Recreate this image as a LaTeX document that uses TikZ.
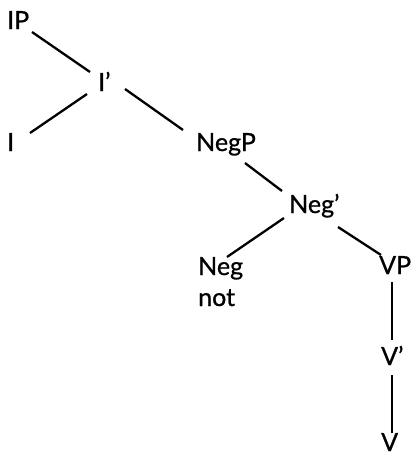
\documentclass[tikz,border=0pt]{standalone}
\usepackage{fontspec}
\setmainfont{Lato}[FakeBold=0.8]
\begin{document}
\begin{tikzpicture}[x=1pt,y=-1pt,
  lbl/.style={anchor=base west,inner sep=0pt,font=\fontsize{25}{25}\selectfont},
  branch/.style={line width=2.3pt}]
\useasboundingbox (0,0) rectangle (411,455);
% labels of the tree
\node[lbl] (IP)   at (7,29)    {IP};
\node[lbl] (Ibar) at (98,91)   {I’};
\node[lbl] (I)    at (7,151)   {I};
\node[lbl] (NegP) at (196,151) {NegP};
\node[lbl] (Negb) at (289,213) {Neg’};
\node[lbl] (Neg)  at (198,275) {Neg};
\node[lbl] (not)  at (198,306) {not};
\node[lbl] (VP)   at (379,274) {VP};
\node[lbl] (Vbar) at (381,365) {V’};
\node[lbl] (V)    at (381,451) {V};
% branches
\draw[branch] ([shift={(25,3)}]IP.base west)    -- ([shift={(-8,-19)}]Ibar.base west);
\draw[branch] ([shift={(-11,3)}]Ibar.base west) -- ([shift={(23,-18)}]I.base west);
\draw[branch] ([shift={(27,-2)}]Ibar.base west) -- ([shift={(-13,-21)}]NegP.base west);
\draw[branch] ([shift={(49,12)}]NegP.base west) -- ([shift={(-7,-22)}]Negb.base west);
\draw[branch] ([shift={(-5,5)}]Negb.base west)  -- ([shift={(29,-18)}]Neg.base west);
\draw[branch] ([shift={(49,14)}]Negb.base west) -- ([shift={(2,-19)}]VP.base west);
\draw[branch] ([shift={(13,8)}]VP.base west)    -- ([shift={(11,-25)}]Vbar.base west);
\draw[branch] ([shift={(11,10)}]Vbar.base west) -- ([shift={(11,-18)}]V.base west);
\end{tikzpicture}
\end{document}
